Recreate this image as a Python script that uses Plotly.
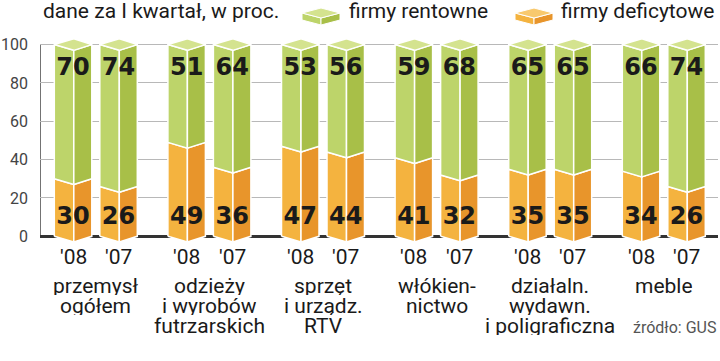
import plotly.graph_objects as go

# ---------------- data ----------------
group_names = [
    ["przemysł", "ogółem"],
    ["odzieży", "i wyrobów", "futrzarskich"],
    ["sprzęt", "i urządz.", "RTV"],
    ["włókien-", "nictwo"],
    ["działaln.", "wydawn.", "i poligraficzna"],
    ["meble"],
]
years = ["'08", "'07"]
rentowne = [[70, 74], [51, 64], [53, 56], [59, 68], [65, 65], [66, 74]]
deficytowe = [[30, 26], [49, 36], [47, 44], [41, 32], [35, 35], [34, 26]]
y_ticks = [0, 20, 40, 60, 80, 100]
title_text = "dane za I kwartał, w proc."
legend_names = ["firmy rentowne", "firmy deficytowe"]
source_text = "źródło: GUS"

# ---------------- layout constants ----------------
W, H = 720, 361
L, R, T, B = 40, 2, 35, 117
PW, PH = W - L - R, H - T - B
YMIN, YMAX = -4, 105

G0, GP, BO, BW, MID, D = 14.3, 113.6, 45.5, 37.5, 0.52, 3.0

GREEN_L, GREEN_R, GREEN_T = "#bdd46a", "#a8bf48", "#d4e38f"
ORANGE_L, ORANGE_R, ORANGE_T = "#f4b33f", "#e8952b", "#f8c96e"
FONT = "Roboto"


def px_x(px):
    return (px - L) / PW


def px_y(py):
    return (T + PH - py) / PH


def polys(list_of_pts):
    xs, ys = [], []
    for pts in list_of_pts:
        for (x, y) in pts:
            xs.append(x)
            ys.append(y)
        xs.append(pts[0][0])
        ys.append(pts[0][1])
        xs.append(None)
        ys.append(None)
    return xs, ys


o_left, o_right, g_left, g_right, tops = [], [], [], [], []
centers = []
for g in range(len(group_names)):
    for j in range(len(years)):
        xl = G0 + g * GP + j * BO
        xr = xl + BW
        xm = xl + MID * BW
        d = deficytowe[g][j]
        top = d + rentowne[g][j]
        centers.append((xl + xr) / 2)
        o_left.append([(xl, 0), (xl, d), (xm, d - D), (xm, -D)])
        o_right.append([(xm, -D), (xm, d - D), (xr, d), (xr, 0)])
        g_left.append([(xl, d), (xl, top), (xm, top - D), (xm, d - D)])
        g_right.append([(xm, d - D), (xm, top - D), (xr, top), (xr, d)])
        tops.append([(xl, top), (xm, top + D), (xr, top), (xm, top - D)])

fig = go.Figure()
for pts, col in [(o_left, ORANGE_L), (o_right, ORANGE_R),
                 (g_left, GREEN_L), (g_right, GREEN_R), (tops, GREEN_T)]:
    xs, ys = polys(pts)
    fig.add_trace(go.Scatter(
        x=xs, y=ys, mode="lines", fill="toself", fillcolor=col,
        line=dict(color="white", width=1.5), hoverinfo="skip", showlegend=False))

# value labels
flat_r = [v for row in rentowne for v in row]
flat_d = [v for row in deficytowe for v in row]
num_font = dict(family="DejaVu Sans", size=24, color="#1a1a1a", weight="bold")
fig.add_trace(go.Scatter(x=centers, y=[87.5] * len(centers), mode="text",
                         text=[str(v) for v in flat_r], textfont=num_font,
                         hoverinfo="skip", showlegend=False, cliponaxis=False))
fig.add_trace(go.Scatter(x=centers, y=[9.4] * len(centers), mode="text",
                         text=[str(v) for v in flat_d], textfont=num_font,
                         hoverinfo="skip", showlegend=False, cliponaxis=False))

annotations = []
# year labels
k = 0
for g in range(len(group_names)):
    for j in range(len(years)):
        annotations.append(dict(x=centers[k], xref="x", y=px_y(256.5), yref="paper",
                                text=years[j], showarrow=False, xanchor="center",
                                yanchor="middle",
                                font=dict(family=FONT, size=21, color="#1a1a1a")))
        k += 1
# group names (one annotation per line)
for g, lines in enumerate(group_names):
    cx = (centers[2 * g] + centers[2 * g + 1]) / 2
    for i, line in enumerate(lines):
        annotations.append(dict(x=cx, xref="x", y=px_y(285 + 20 * i), yref="paper",
                                text=line, showarrow=False, xanchor="center",
                                yanchor="middle", height=19, borderpad=0,
                                font=dict(family=FONT, size=21, color="#1a1a1a")))
# title
annotations.append(dict(x=px_x(41), xref="paper", y=px_y(11.5), yref="paper",
                        text=title_text, showarrow=False, xanchor="left", yanchor="middle",
                        font=dict(family=FONT, size=21, color="#1a1a1a")))
# legend texts
annotations.append(dict(x=px_x(347), xref="paper", y=px_y(11.5), yref="paper",
                        text=legend_names[0], showarrow=False, xanchor="left", yanchor="middle",
                        font=dict(family=FONT, size=21, color="#1a1a1a")))
annotations.append(dict(x=px_x(559), xref="paper", y=px_y(11.5), yref="paper",
                        text=legend_names[1], showarrow=False, xanchor="left", yanchor="middle",
                        font=dict(family=FONT, size=21, color="#1a1a1a")))
# source
annotations.append(dict(x=px_x(718), xref="paper", y=px_y(327), yref="paper",
                        text=source_text, showarrow=False, xanchor="right", yanchor="middle",
                        font=dict(family=FONT, size=16, color="#555555")))

shapes = []
# y axis line 0..100
shapes.append(dict(type="line", xref="x", yref="y", x0=0, x1=0, y0=0, y1=100,
                   line=dict(color="#444444", width=1.5), layer="below"))


def icon(x0, colors):
    # small flat box icon in pixel coords
    cl, cr, ct = colors
    w = 38
    xm = x0 + w / 2
    top_y, side_y, bot_y, depth = 8, 13, 18, 7

    def path(pts):
        return "M " + " L ".join(f"{px_x(a)},{px_y(b)}" for a, b in pts) + " Z"
    return [
        dict(type="path", xref="paper", yref="paper",
             path=path([(x0, side_y), (xm, bot_y), (xm, bot_y + depth), (x0, side_y + depth)]),
             fillcolor=cl, line=dict(color="white", width=1)),
        dict(type="path", xref="paper", yref="paper",
             path=path([(xm, bot_y), (x0 + w, side_y), (x0 + w, side_y + depth), (xm, bot_y + depth)]),
             fillcolor=cr, line=dict(color="white", width=1)),
        dict(type="path", xref="paper", yref="paper",
             path=path([(x0, side_y), (xm, top_y), (x0 + w, side_y), (xm, bot_y)]),
             fillcolor=ct, line=dict(color="white", width=1)),
    ]


shapes += icon(302, (GREEN_L, GREEN_R, GREEN_T))
shapes += icon(515, (ORANGE_L, ORANGE_R, ORANGE_T))

fig.update_layout(
    width=W, height=H,
    margin=dict(l=L, r=R, t=T, b=B, pad=0, autoexpand=False),
    paper_bgcolor="white", plot_bgcolor="white",
    showlegend=False,
    xaxis=dict(range=[0, PW], showgrid=False, zeroline=False, showticklabels=False,
               showline=False, fixedrange=True, automargin=False),
    yaxis=dict(range=[YMIN, YMAX], tickvals=y_ticks, ticktext=[str(v) for v in y_ticks],
               showgrid=True, gridcolor="#b8b8b8", gridwidth=1,
               zeroline=True, zerolinecolor="#333333", zerolinewidth=2.5,
               showline=False, ticks="", ticklabelstandoff=11, automargin=False,
               tickfont=dict(family=FONT, size=16, color="#444444"), fixedrange=True),
    annotations=annotations,
    shapes=shapes,
)

fig.write_html(
    "out.html",
    config={"displayModeBar": False},
    post_script="document.body.style.margin='0px';document.body.style.padding='0px';"
                "document.body.style.overflow='hidden';",
)
